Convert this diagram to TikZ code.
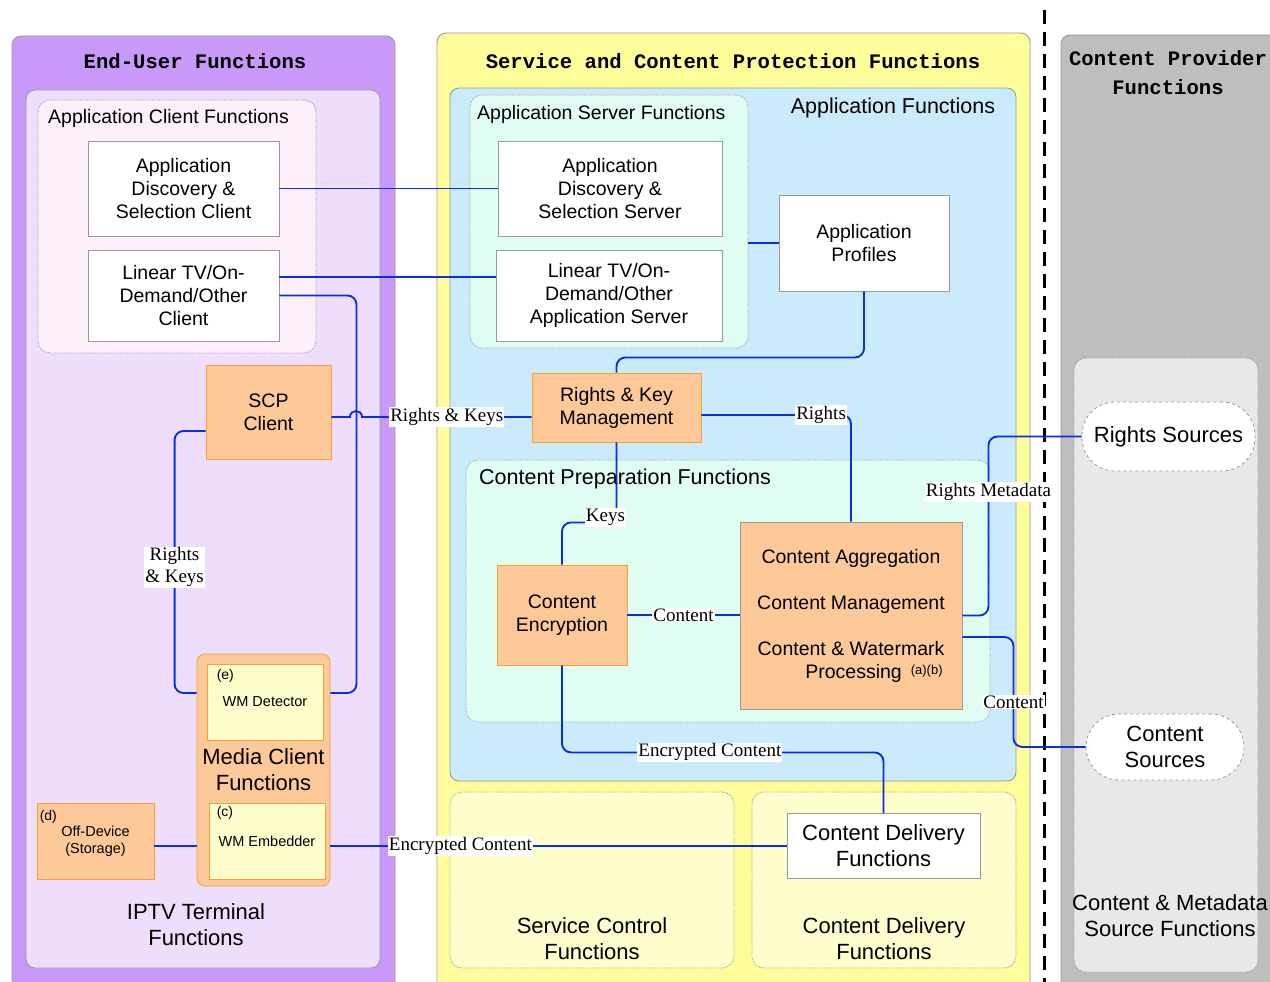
\documentclass[tikz,border=0pt]{standalone}
\usepackage{fontspec}
\setmainfont{Liberation Sans}
\newfontfamily\labelfont{Liberation Serif}
\newfontfamily\headfont{Liberation Mono}
\usetikzlibrary{fit}

\definecolor{euser}{HTML}{C899F8}
\definecolor{iptvfill}{HTML}{EEDDFC}
\definecolor{appclifill}{HTML}{FDF0FB}
\definecolor{orangefill}{HTML}{FEC998}
\definecolor{orangeline}{HTML}{F7A033}
\definecolor{scpfill}{HTML}{FFFD9A}
\definecolor{appfill}{HTML}{CBEBFD}
\definecolor{mintfill}{HTML}{E0FDF2}
\definecolor{paleyellow}{HTML}{FEFDCC}
\definecolor{cpfill}{HTML}{BEBEBE}
\definecolor{srcfill}{HTML}{E8E8E8}
\definecolor{linkblue}{HTML}{0C2EE0}
\definecolor{edge}{HTML}{9A9A9A}

\tikzset{
  txt/.style={font=\fontsize{19.5}{23}\selectfont, align=center, inner sep=0pt},
  bigtxt/.style={font=\fontsize{22}{26}\selectfont, align=center, inner sep=0pt},
  midtxt/.style={font=\fontsize{21.5}{25}\selectfont, inner sep=0pt},
  smalltxt/.style={font=\fontsize{14.5}{17}\selectfont, align=center, inner sep=0pt},
  headtxt/.style={font=\headfont\bfseries\fontsize{20.6}{29}\selectfont, align=center, inner sep=0pt},
  whitebox/.style={txt, draw=edge, fill=white, line width=0.9pt},
  orangebox/.style={txt, draw=orangeline, fill=orangefill, line width=0.9pt},
  wmbox/.style={smalltxt, draw=orangeline, fill=paleyellow, line width=0.9pt},
  area/.style={draw=edge, line width=0.9pt, rounded corners=9pt, inner sep=0pt},
  subarea/.style={draw=edge, densely dotted, line width=0.8pt, rounded corners=12pt, inner sep=0pt},
  source/.style={bigtxt, draw=edge, dashed, fill=white, rounded corners=33pt, line width=0.8pt},
  subtag/.style={font=\fontsize{14}{14}\selectfont, inner sep=0pt},
  link/.style={draw=linkblue, line width=1.9pt, rounded corners=9pt},
  tag/.style={font=\labelfont\fontsize{19}{22}\selectfont, fill=white, sharp corners, inner sep=1pt, align=center},
}

\begin{document}
\begin{tikzpicture}[x=1pt,y=-1pt]
\useasboundingbox (0,0) rectangle (1270,982);
\clip (0,0) rectangle (1270,982);
\fill[white] (0,0) rectangle (1270,982);

% end-user side
\node[area, fill=euser, fit={(12,36) (395,995)}] (eu) {};
\node[area, fill=iptvfill, fit={(26,90) (380,968)}] (iptv) {};
\node[subarea, fill=appclifill, fit={(38,100) (316,353)}] (acf) {};
\node[headtxt] (euT) at (195,61) {End-User Functions};
\node[txt, anchor=west] (acfT) at (48,118) {Application Client Functions};
\node[bigtxt] (iptvT) at (196,925) {IPTV Terminal\\Functions};

% service and content protection
\node[area, fill=scpfill, fit={(437,33) (1030,995)}] (scpf) {};
\node[area, fill=appfill, fit={(450,88) (1016,781)}] (af) {};
\node[subarea, fill=mintfill, fit={(470,95) (748,348)}] (asf) {};
\node[subarea, fill=mintfill, fit={(466,460) (990,722)}] (cpf) {};
\node[subarea, fill=paleyellow, fit={(450,792) (734,968)}] (scf) {};
\node[subarea, fill=paleyellow, fit={(752,792) (1016,968)}] (cdf) {};
\node[headtxt] (scpT) at (733,61) {Service and Content Protection Functions};
\node[midtxt] (afT) at (893,108) {Application Functions};
\node[txt, anchor=west] (asfT) at (477,114) {Application Server Functions};
\node[midtxt, anchor=west] (cpfT) at (479,479) {Content Preparation Functions};
\node[bigtxt] (scfT) at (592,939) {Service Control\\Functions};
\node[bigtxt] (cdfT) at (884,939) {Content Delivery\\Functions};

% content provider
\node[area, fill=cpfill, fit={(1061,35) (1295,995)}] (cp) {};
\node[subarea, fill=srcfill, fit={(1074,358) (1258,972)}] (msf) {};
\node[headtxt] (cpT) at (1168,73) {Content Provider\\Functions};
\node[bigtxt] (msfT) at (1170,916) {Content \& Metadata\\Source Functions};

\draw[line width=3pt, dash pattern=on 14pt off 8pt] (1044,10) -- (1044,982);

% boxes
\node[whitebox, minimum width=191, minimum height=95] (adc) at (183.5,188.5) {Application\\Discovery \&\\Selection Client};
\node[whitebox, minimum width=191, minimum height=91] (ltc) at (183.5,295.5) {Linear TV/On-\\Demand/Other\\Client};
\node[whitebox, minimum width=224, minimum height=95] (ads) at (610,188.5) {Application\\Discovery \&\\Selection Server};
\node[whitebox, minimum width=226, minimum height=91] (lts) at (609,295.5) {Linear TV/On-\\Demand/Other\\Application Server};
\node[whitebox, minimum width=170, minimum height=96] (apf) at (864,243) {Application\\Profiles};
\node[whitebox, font=\fontsize{22}{26}\selectfont, minimum width=193, minimum height=65] (cdi) at (883.5,846) {Content Delivery\\Functions};

\node[orangebox, minimum width=125, minimum height=94] (scp) at (268.5,412) {SCP\\Client};
\node[orangebox, minimum width=169, minimum height=69] (rkm) at (616.5,407.5) {Rights \& Key\\Management};
\node[orangebox, minimum width=130, minimum height=100] (enc) at (562,615) {Content\\Encryption};
\node[orangebox, draw=edge, minimum width=222, minimum height=187] (cag) at (851,615.5)
  {Content Aggregation\\[23pt]Content Management\\[23pt]Content \& Watermark\\
   \hspace*{46pt}Processing\hspace{9pt}\raisebox{4pt}{\fontsize{13}{13}\selectfont(a)(b)}};
\node[orangebox, font=\fontsize{14.5}{17}\selectfont, minimum width=117, minimum height=76,
  label={[subtag, anchor=north west, xshift=3pt, yshift=-8pt]north west:(d)}] (off) at (95.5,841) {Off-Device\\(Storage)};
\node[orangebox, font=\fontsize{22}{26}\selectfont, rounded corners=8pt, minimum width=133, minimum height=232] (mcf) at (263.5,770) {Media Client\\Functions};
\node[wmbox, minimum width=116, minimum height=76,
  label={[subtag, anchor=north west, xshift=10pt, yshift=-6pt]north west:(e)}] (wmd) at (265,702) {WM Detector};
\node[wmbox, minimum width=116, minimum height=76,
  label={[subtag, anchor=north west, xshift=8pt, yshift=-4pt]north west:(c)}] (wme) at (267,841) {WM Embedder};

\node[source, minimum width=173, minimum height=69] (rs) at (1168.5,436.5) {Rights Sources};
\node[source, minimum width=158, minimum height=66] (cs) at (1165,747) {Content\\Sources};

% connectors
\draw[link] (adc.east) -- (ads.west);
\draw[link] ([yshift=18.5pt]ltc.east) -- ([yshift=18.5pt]lts.west);
\draw[link] (ltc.east) -- ++(77,0) |- ([yshift=77pt]mcf.east);
\draw[link, sharp corners] ([yshift=-5pt]scp.east) -- (350,417) .. controls (350,409) and (362,409) .. (362,417)
  -- node[tag] (rkT) {Rights \& Keys} ([yshift=-9.5pt]rkm.west);
\draw[link] ([yshift=-19pt]scp.west) -- ++(-31,0) |- node[tag, pos=0.26] (rkT2) {Rights\\\& Keys} ([yshift=77pt]mcf.west);
\draw[link] (asf.east |- apf.west) -- (apf.west);
\draw[link] (apf.south) -- ++(0,66) -| (rkm.north);
\draw[link] (rkm.south) -- ++(0,80) node[tag, xshift=-11pt, yshift=5pt] (keysT) {Keys} -| (enc.north);
\draw[link] ([yshift=-7.5pt]rkm.east) -| node[tag, pos=0.4] (rightsT) {Rights} (cag.north);
\draw[link] (enc.east) -- node[tag] (contT) {Content} (enc.east -| cag.west);
\draw[link] (cag.east) -- ++(26,0) |- node[tag, pos=0.345] (rmT) {Rights Metadata} (rs.west);
\draw[link] ([yshift=-21.5pt]cag.east) -- ++(51,0) |- node[tag, pos=0.295] (contT2) {Content} (cs.west);
\draw[link] (enc.south) -- ++(0,87) -| node[tag, pos=0.23] (encT) {Encrypted Content} (cdi.north);
\draw[link] ([yshift=-76pt]mcf.east) -- node[tag, pos=0.285] (encT2) {Encrypted Content} (cdi.west);
\draw[link] ([yshift=-5pt]off.east) -- ([yshift=-76pt]mcf.west);
\end{tikzpicture}
\end{document}
